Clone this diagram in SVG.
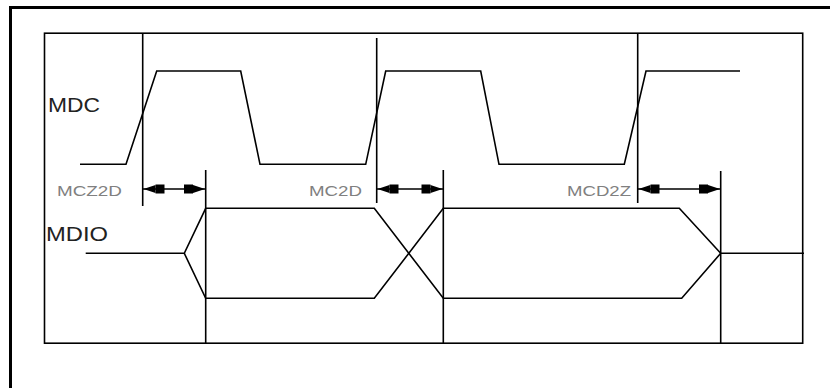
<svg xmlns="http://www.w3.org/2000/svg" width="830" height="388" viewBox="0 0 830 388">
<style>
.frame{fill:none;stroke:#000;stroke-width:3}
.box{fill:none;stroke:#000;stroke-width:1.6}
.wave{fill:none;stroke:#000;stroke-width:1.6;stroke-linejoin:miter}
.ref{fill:none;stroke:#000;stroke-width:1.6}
.dim{fill:none;stroke:#000;stroke-width:1.3}
.sig{font-family:"Liberation Sans",Arial,sans-serif;font-size:20px;fill:#222}
.lbl{font-family:"Liberation Sans",Arial,sans-serif;font-size:15px;fill:#808080}
</style>
<defs>
<g id="headL"><path d="M0,0 L12,-4 L12,4 Z" fill="#000"/><rect x="12" y="-4.5" width="9" height="9" fill="#000"/></g>
<g id="headR"><path d="M0,0 L-12,-4 L-12,4 Z" fill="#000"/><rect x="-21" y="-4.5" width="9" height="9" fill="#000"/></g>
</defs>
<rect width="830" height="388" fill="#fff"/>
<path class="frame" d="M10.5,388 V7.5 H830"/>
<rect class="box" x="44.5" y="33.2" width="758.2" height="310"/>
<g id="mdc">
<text class="sig" x="48" y="112" textLength="52" lengthAdjust="spacingAndGlyphs">MDC</text>
<path class="wave" d="M80,164.3 H126 L156.7,71 H240.7 L260,164.3 H365.7 L385.7,71 H480.7 L499,164.3 H624.3 L646,71 H740"/>
</g>
<g id="mdio">
<text class="sig" x="46" y="241" textLength="62" lengthAdjust="spacingAndGlyphs">MDIO</text>
<path class="wave" d="M85.7,253.3 H184.3 L205.7,208.3 H374.3 L443.3,298.3 H681.7 L720.7,253.3 H804"/>
<path class="wave" d="M184.3,253.3 L205.7,298.3 H374.3 L443.3,208.3 H679.3 L720.7,253.3"/>
</g>
<g id="connectors">
<path class="ref" d="M142.7,33.2 V206 M376.7,38 V203 M637.7,33.2 V203 M205.7,170 V343.2 M443.3,170 V343.2 M720.7,171 V343.2"/>
<path class="dim" d="M142.7,189 H205.7 M376.7,189 H443.3 M637.7,189 H720.7"/>
<use href="#headL" x="143.5" y="189"/>
<use href="#headR" x="205" y="189"/>
<use href="#headL" x="377.5" y="189"/>
<use href="#headR" x="442.5" y="189"/>
<use href="#headL" x="638.5" y="189"/>
<use href="#headR" x="720" y="189"/>
</g>
<g id="mcz2d"><text class="lbl" x="57" y="195.5" textLength="65" lengthAdjust="spacingAndGlyphs">MCZ2D</text></g>
<g id="mc2d"><text class="lbl" x="309" y="195.5" textLength="53" lengthAdjust="spacingAndGlyphs">MC2D</text></g>
<g id="mcd2z"><text class="lbl" x="567" y="195.5" textLength="64" lengthAdjust="spacingAndGlyphs">MCD2Z</text></g>
</svg>
